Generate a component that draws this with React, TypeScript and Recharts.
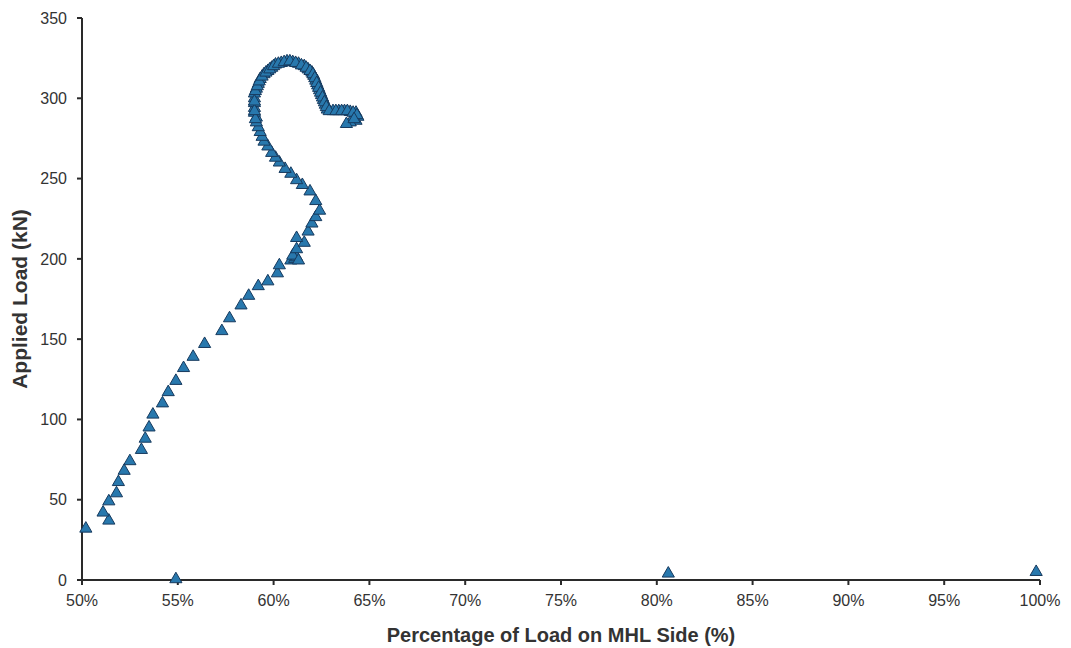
import { ScatterChart, Scatter, XAxis, YAxis, ZAxis } from 'recharts';

// Share of the load carried on the MHL side (%) and the applied load (kN), in recorded order
const loadShare = [
  54.9, 80.6, 99.8, 50.2,
  51.4, 51.1, 51.4, 51.8, 51.9, 52.2, 52.5, 53.1, 53.3, 53.5, 53.7, 54.2, 54.5, 54.9, 55.3, 55.8,
  56.4, 57.3, 57.7, 58.3, 58.7, 59.2, 59.7, 60.2, 60.3, 60.9, 61.1, 61.2, 61.0, 61.3, 61.2, 61.6,
  61.2, 61.8, 62.0, 62.2, 62.4, 62.2, 61.9, 61.5, 61.2, 60.9, 60.6, 60.3, 60.1, 59.9, 59.7, 59.5,
  59.4, 59.3, 59.2, 59.1, 59.1, 59.0, 59.0, 59.0, 59.0, 59.0, 59.1, 59.2, 59.3, 59.5, 59.7, 59.9,
  60.1, 60.4, 60.7, 61.0, 61.3, 61.6, 61.8, 62.0, 62.1, 62.2, 62.3, 62.4, 62.5, 62.6, 62.7, 62.8,
  63.1, 63.4, 63.7, 64.0, 64.3, 64.4, 64.3, 64.0, 63.8,
  59.05, 59.0, 59.0, 59.05, 59.15, 59.25, 59.4, 59.6, 59.8, 60.0, 60.25, 60.55, 60.85, 61.15,
  61.45, 61.7, 61.9, 62.05, 62.15, 62.25, 62.35, 62.45, 62.55, 62.65, 62.75, 62.9, 63.25, 63.55,
  63.85, 64.15, 64.35, 64.2,
];
const appliedLoad = [
  0.5, 4, 5, 32,
  37, 42, 49, 54, 61, 68, 74, 81, 88, 95, 103, 110, 117, 124, 132, 139,
  147, 155, 163, 171, 177, 183, 186, 191, 196, 199, 200, 201, 202, 199, 206, 210,
  213, 217, 222, 226, 230, 236, 242, 246, 249, 253, 256, 260, 263, 266, 270, 273,
  276, 279, 282, 285, 288, 291, 294, 297, 300, 303, 306, 309, 312, 315, 317, 319,
  321, 322, 323, 322.5, 321.5, 320, 318, 316, 314, 311, 308, 305, 302, 299, 296, 293,
  292, 292, 292, 291.5, 291, 288.5, 286, 285, 284,
  287, 292, 298, 304.5, 307.5, 310.5, 313.5, 316, 318, 320, 321.5, 322.5, 323, 322,
  320.5, 319, 317, 315, 312.5, 309.5, 306.5, 303.5, 300.5, 297.5, 294.5, 292, 292, 292,
  292, 291, 289.5, 287,
];

const xTicks = [50, 55, 60, 65, 70, 75, 80, 85, 90, 95, 100];
const yTicks = [0, 50, 100, 150, 200, 250, 300, 350];

const points = loadShare.map((share, i) => ({ share, load: appliedLoad[i] }));

const font = "'Liberation Sans', Arial, sans-serif";

export default function App() {
  return (
    <div style={{ fontFamily: font }}>
      <ScatterChart width={1055} height={640} margin={{ top: 10, right: 23, bottom: 4, left: 10 }}>
        <XAxis
          type="number"
          dataKey="share"
          domain={[50, 100]}
          ticks={xTicks}
          tickFormatter={(v) => `${v}%`}
          axisLine={{ stroke: '#2a2a2a', strokeWidth: 2 }}
          tickLine={{ stroke: '#2a2a2a', strokeWidth: 2 }}
          tickSize={5}
          tickMargin={10}
          tick={{ fill: '#333', fontSize: 16, fontFamily: font }}
          height={64}
          label={{
            value: 'Percentage of Load on MHL Side (%)',
            position: 'insideBottom',
            offset: 2,
            fill: '#333',
            fontSize: 20,
            fontWeight: 'bold',
            fontFamily: font,
          }}
        />
        <YAxis
          type="number"
          dataKey="load"
          domain={[0, 350]}
          ticks={yTicks}
          axisLine={{ stroke: '#2a2a2a', strokeWidth: 2 }}
          tickLine={{ stroke: '#2a2a2a', strokeWidth: 2 }}
          tickSize={5}
          tickMargin={10}
          tick={{ fill: '#333', fontSize: 16, fontFamily: font }}
          width={64}
          label={{
            value: 'Applied Load (kN)',
            angle: -90,
            position: 'insideLeft',
            offset: 2,
            style: { textAnchor: 'middle' },
            fill: '#333',
            fontSize: 21,
            fontWeight: 'bold',
            fontFamily: font,
          }}
        />
        <ZAxis range={[34, 34]} />
        <Scatter
          data={points}
          shape="triangle"
          fill="#2878ad"
          stroke="#173a5e"
          strokeWidth={1}
          isAnimationActive={false}
        />
      </ScatterChart>
    </div>
  );
}
